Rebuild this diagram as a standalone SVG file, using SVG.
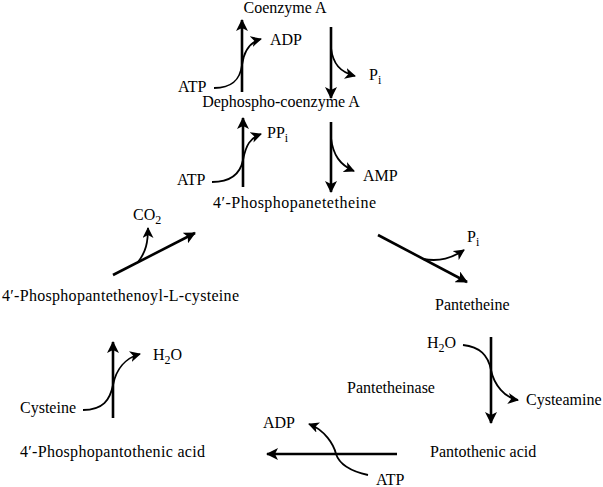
<svg xmlns="http://www.w3.org/2000/svg" width="603" height="487" viewBox="0 0 603 487">
<style>
text{font-family:"Liberation Serif","Times New Roman",serif;font-size:16px;fill:#000}
.sub{font-size:12px}
.main{fill:none;stroke:#000;stroke-width:2.6;marker-end:url(#ah)}
.side{fill:none;stroke:#000;stroke-width:1.8;marker-end:url(#ah2)}
</style>
<defs>
<marker id="ah" markerUnits="userSpaceOnUse" markerWidth="12" markerHeight="12" viewBox="0 0 12 12" refX="11" refY="6" orient="auto">
<path d="M0,0 L12,6 L0,12 L3,6 z" fill="#000"/>
</marker>
<marker id="ah2" markerUnits="userSpaceOnUse" markerWidth="11" markerHeight="11" viewBox="0 0 11 11" refX="10" refY="5.5" orient="auto">
<path d="M0,0 L11,5.5 L0,11 L3,5.5 z" fill="#000"/>
</marker>
</defs>
<g id="connectors">
<path class="main" d="M242,92 L242,20"/>
<path class="side" d="M214,88 C232,88 240,80 242,65 C244,50 250,42 261,39"/>
<path class="main" d="M331,27 L331,98"/>
<path class="side" d="M331,48 C333,64 340,72 355,76"/>
<path class="main" d="M243,187 L243,118"/>
<path class="side" d="M212,182 C230,182 240,175 243,160 C246,145 250,138 261,134"/>
<path class="main" d="M331,122 L331,192"/>
<path class="side" d="M331,138 C333,155 340,165 354,171"/>
<path class="main" d="M113,275 L195,233"/>
<path class="side" d="M138,262 C146,252 148,242 148,228"/>
<path class="main" d="M378,235 L467,282"/>
<path class="side" d="M423,259 C440,262 452,258 464,250"/>
<path class="main" d="M113,418 L113,342"/>
<path class="side" d="M83,410 C103,410 110,400 113,385 C116,370 125,358 140,354"/>
<path class="main" d="M491,337 L491,423"/>
<path class="side" d="M463,345 C480,347 488,355 491,370 C494,385 505,398 518,400"/>
<path class="main" d="M397,454 L267,454"/>
<path class="side" d="M368,475 C345,470 338,460 336,454 C334,445 325,430 309,424"/>
</g>
<g id="coa"><text x="285" y="13" text-anchor="middle">Coenzyme A</text></g>
<g id="atp1"><text x="178" y="92">ATP</text></g>
<g id="adp1"><text x="270" y="45">ADP</text></g>
<g id="pi1"><text x="369" y="80">P<tspan class="sub" dy="4">i</tspan></text></g>
<g id="dephospho"><text x="281" y="107" text-anchor="middle">Dephospho-coenzyme A</text></g>
<g id="atp2"><text x="177" y="185">ATP</text></g>
<g id="ppi"><text x="267" y="138">PP<tspan class="sub" dy="4">i</tspan></text></g>
<g id="amp"><text x="363" y="181">AMP</text></g>
<g id="ppant"><text x="213" y="208" textLength="163" lengthAdjust="spacing">4′-Phosphopanetetheine</text></g>
<g id="co2"><text x="133" y="220">CO<tspan class="sub" dy="4">2</tspan></text></g>
<g id="ppcys"><text x="2" y="301" textLength="237" lengthAdjust="spacing">4′-Phosphopantethenoyl-L-cysteine</text></g>
<g id="pi2"><text x="467" y="242">P<tspan class="sub" dy="4">i</tspan></text></g>
<g id="pantetheine"><text x="435" y="310">Pantetheine</text></g>
<g id="h2o2"><text x="427" y="348">H<tspan class="sub" dy="4">2</tspan><tspan dy="-4">O</tspan></text></g>
<g id="pantetheinase"><text x="347" y="393">Pantetheinase</text></g>
<g id="cysteamine"><text x="526" y="405">Cysteamine</text></g>
<g id="h2o1"><text x="153" y="360">H<tspan class="sub" dy="4">2</tspan><tspan dy="-4">O</tspan></text></g>
<g id="cysteine"><text x="20" y="413">Cysteine</text></g>
<g id="adp2"><text x="263" y="428">ADP</text></g>
<g id="ppanto"><text x="20" y="457" textLength="185" lengthAdjust="spacing">4′-Phosphopantothenic acid</text></g>
<g id="panto"><text x="430" y="457">Pantothenic acid</text></g>
<g id="atp3"><text x="376" y="485">ATP</text></g>
</svg>
